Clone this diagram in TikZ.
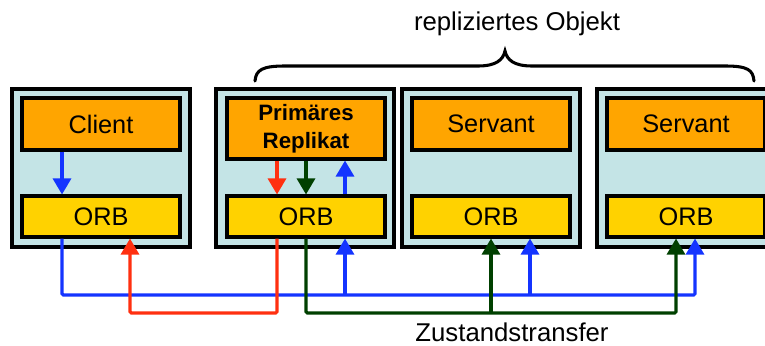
\documentclass[tikz,border=0pt]{standalone}
\usepackage{fontspec}
\setmainfont{Liberation Sans}
\usetikzlibrary{arrows.meta}
\definecolor{hostfill}{HTML}{C4E4E6}
\definecolor{objfill}{HTML}{FFA500}
\definecolor{orbfill}{HTML}{FFD200}
\definecolor{reqblue}{HTML}{1434FF}
\definecolor{repred}{HTML}{FF3010}
\definecolor{stgreen}{HTML}{004000}
\tikzset{
  host/.style={draw=black, line width=2.3pt, fill=hostfill, minimum width=133.5pt, minimum height=118.5pt, inner sep=0pt},
  objbox/.style={draw=black, line width=2.3pt, fill=objfill, minimum width=118.5pt, minimum height=39pt, inner sep=0pt, font=\fontsize{19}{22}\selectfont},
  primbox/.style={objbox, minimum height=45.75pt, align=center, font=\fontsize{16.7}{21}\selectfont\bfseries},
  orbbox/.style={draw=black, line width=2.3pt, fill=orbfill, minimum width=118.5pt, minimum height=30.75pt, inner sep=0pt, font=\fontsize{19}{22}\selectfont},
  flow/.style={line width=2.3pt, -{Triangle[width=13.5pt,length=12pt]}},
  label/.style={font=\fontsize{19.3}{22}\selectfont, inner sep=0pt, anchor=base}
}
\begin{document}
\begin{tikzpicture}[x=0.75pt,y=-0.75pt]
\useasboundingbox (0,0) rectangle (765,346);
\clip (0,0) rectangle (765,346);

% hosts
\node[host] (h1) at (101,168) {};
\node[host] (h2) at (305,168) {};
\node[host] (h3) at (491,168) {};
\node[host] (h4) at (686,168) {};

% objects
\node[objbox] (client) at (101,124) {Client};
\node[primbox] (prim) at (306,128.5) {Primäres\\Replikat};
\node[objbox] (serv1) at (491,124) {Servant};
\node[objbox] (serv2) at (686,124) {Servant};

% ORBs
\node[orbbox] (orb1) at (101,216.5) {ORB};
\node[orbbox] (orb2) at (306,216.5) {ORB};
\node[orbbox] (orb3) at (491,216.5) {ORB};
\node[orbbox] (orb4) at (686,216.5) {ORB};

% local calls
\draw[flow, reqblue] (client.south -| 62,0) -- (orb1.north -| 62,0);
\draw[flow, repred] (prim.south -| 277,0) -- (orb2.north -| 277,0);
\draw[flow, stgreen] (prim.south -| 306,0) -- (orb2.north -| 306,0);
\draw[flow, reqblue] (orb2.north -| 345,0) -- (prim.south -| 345,0);

% request bus (blue)
\coordinate (busb) at (0,295);
\draw[flow, reqblue, rounded corners=1pt] (orb1.south -| 62,0) |- (busb -| 695,0) -- (orb4.south -| 695,0);
\draw[flow, reqblue] (busb -| 345,0) -- (orb2.south -| 345,0);
\draw[flow, reqblue] (busb -| 530,0) -- (orb3.south -| 530,0);

% reply (red)
\coordinate (busr) at (0,313);
\draw[flow, repred, rounded corners=1pt] (orb2.south -| 277,0) |- (busr -| 130,0) -- (orb1.south -| 130,0);

% state transfer (green)
\draw[flow, stgreen, rounded corners=1pt] (orb2.south -| 306,0) |- (busr -| 676,0) -- (orb4.south -| 676,0);
\draw[flow, stgreen] (busr -| 491,0) -- (orb3.south -| 491,0);

% labels
\node[label] (zt) at (512,341) {Zustandstransfer};
\node[label] (ro) at (517,31) {repliziertes Objekt};

% brace over the replicas
\draw[line width=2.3pt, line cap=round]
  (255,81) .. controls (256,70) and (262,66) .. (285,66)
  -- (478,66) .. controls (496,66) and (503,60) .. (505,51)
  .. controls (507,60) and (514,66) .. (532,66)
  -- (725,66) .. controls (748,66) and (753,70) .. (754,81);
\end{tikzpicture}
\end{document}
